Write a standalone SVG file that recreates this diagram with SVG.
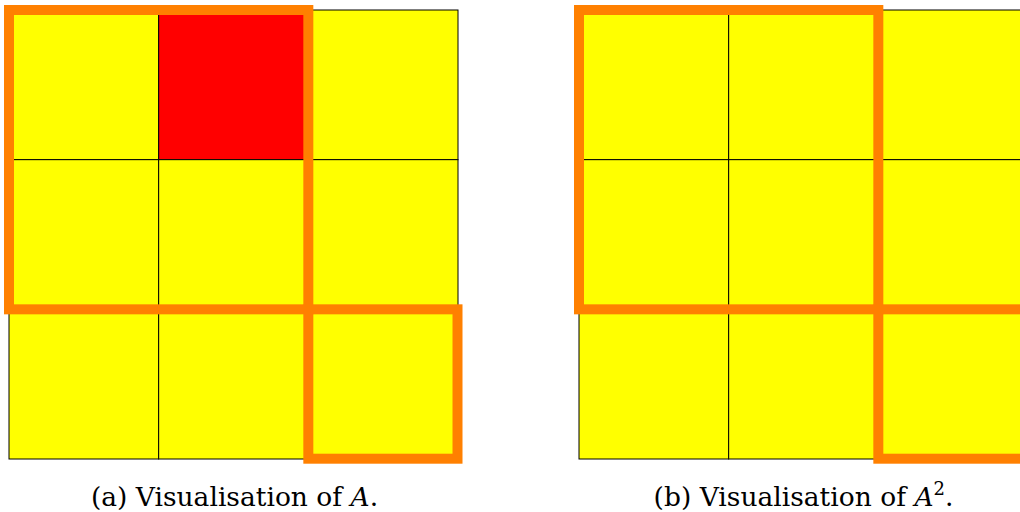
<svg xmlns="http://www.w3.org/2000/svg" width="1020" height="512" viewBox="0 0 1020 512">
<style>
.cell{fill:#ffff00;stroke:#000;stroke-width:1}
.red{fill:#ff0000;stroke:#000;stroke-width:1}
.hl{fill:none;stroke:#ff8000;stroke-width:10}
.cap{font-family:"DejaVu Serif","Liberation Serif",serif;font-size:26.5px;fill:#000}
</style>
<rect width="1020" height="512" fill="#fff"/>
<g id="gridA">
<rect class="cell" x="9" y="10" width="149.67" height="149.67"/>
<rect class="red" x="158.67" y="10" width="149.67" height="149.67"/>
<rect class="cell" x="308.33" y="10" width="149.67" height="149.67"/>
<rect class="cell" x="9" y="159.67" width="149.67" height="149.67"/>
<rect class="cell" x="158.67" y="159.67" width="149.67" height="149.67"/>
<rect class="cell" x="308.33" y="159.67" width="149.67" height="149.67"/>
<rect class="cell" x="9" y="309.33" width="149.67" height="149.67"/>
<rect class="cell" x="158.67" y="309.33" width="149.67" height="149.67"/>
<rect class="cell" x="308.33" y="309.33" width="149.67" height="149.67"/>
</g>
<g id="highlightA">
<rect class="hl" x="9" y="10" width="299.33" height="299.33"/>
<rect class="hl" x="308.33" y="309.33" width="149.17" height="149.37"/>
</g>
<g id="gridB">
<rect class="cell" x="579" y="10" width="149.67" height="149.67"/>
<rect class="cell" x="728.67" y="10" width="149.67" height="149.67"/>
<rect class="cell" x="878.33" y="10" width="149.67" height="149.67"/>
<rect class="cell" x="579" y="159.67" width="149.67" height="149.67"/>
<rect class="cell" x="728.67" y="159.67" width="149.67" height="149.67"/>
<rect class="cell" x="878.33" y="159.67" width="149.67" height="149.67"/>
<rect class="cell" x="579" y="309.33" width="149.67" height="149.67"/>
<rect class="cell" x="728.67" y="309.33" width="149.67" height="149.67"/>
<rect class="cell" x="878.33" y="309.33" width="149.67" height="149.67"/>
</g>
<g id="highlightB">
<rect class="hl" x="579" y="10" width="299.33" height="299.33"/>
<rect class="hl" x="878.33" y="309.33" width="149.67" height="149.37"/>
</g>
<g id="captions">
<text class="cap" x="234.5" y="506" text-anchor="middle">(a) Visualisation of <tspan font-style="italic">A</tspan>.</text>
<text class="cap" x="803.5" y="506" text-anchor="middle">(b) Visualisation of <tspan font-style="italic">A</tspan><tspan font-size="18" dy="-11">2</tspan><tspan dy="11">.</tspan></text>
</g>
</svg>
